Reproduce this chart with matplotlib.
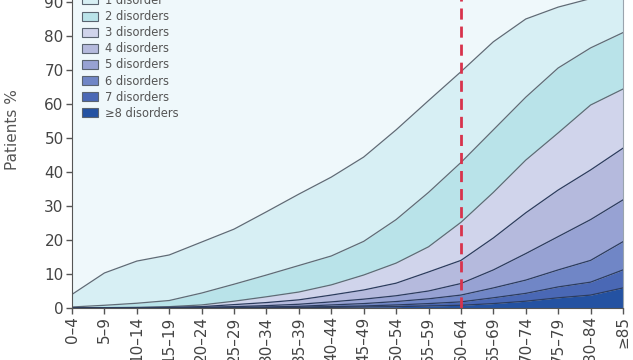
import matplotlib.pyplot as plt
import numpy as np

plt.rcParams['font.family'] = ['DejaVu Sans']

age_groups = ['0–4', '5–9', '10–14', '15–19', '20–24', '25–29', '30–34',
              '35–39', '40–44', '45–49', '50–54', '55–59', '60–64', '65–69',
              '70–74', '75–79', '80–84', '≥85']

# share of patients with at least k disorders (%)
at_least_1 = [4.0, 10.3, 13.8, 15.6, 19.4, 23.2, 28.3, 33.5, 38.5, 44.4,
              52.4, 61.0, 69.5, 78.3, 85.0, 88.5, 91.0, 93.5]
at_least_2 = [0.3, 0.8, 1.4, 2.2, 4.4, 7.0, 9.7, 12.5, 15.3, 19.6,
              26.0, 34.0, 42.8, 52.4, 62.0, 70.6, 76.5, 81.0]
at_least_3 = [0.05, 0.1, 0.2, 0.4, 0.9, 2.0, 3.3, 4.7, 6.8, 9.7,
              13.2, 18.0, 25.2, 34.0, 43.5, 51.5, 59.7, 64.4]
at_least_4 = [0.0, 0.05, 0.1, 0.2, 0.4, 1.0, 1.6, 2.4, 3.8, 5.3,
              7.3, 10.6, 14.0, 20.6, 28.0, 34.7, 40.6, 47.0]
at_least_5 = [0.0, 0.0, 0.05, 0.1, 0.2, 0.4, 0.7, 1.1, 1.8, 2.6,
              3.6, 5.0, 7.2, 11.2, 16.0, 21.0, 26.0, 31.8]
at_least_6 = [0.0, 0.0, 0.0, 0.05, 0.1, 0.2, 0.3, 0.5, 0.9, 1.3,
              1.9, 2.7, 3.8, 5.9, 8.2, 11.2, 14.0, 19.5]
at_least_7 = [0.0, 0.0, 0.0, 0.0, 0.05, 0.1, 0.15, 0.25, 0.4, 0.6,
              0.9, 1.3, 1.8, 3.0, 4.3, 6.2, 7.6, 11.2]
at_least_8 = [0.0, 0.0, 0.0, 0.0, 0.0, 0.05, 0.1, 0.1, 0.2, 0.3,
              0.4, 0.6, 0.8, 1.3, 2.0, 3.0, 3.8, 5.9]

labels = ['1 disorder', '2 disorders', '3 disorders', '4 disorders',
          '5 disorders', '6 disorders', '7 disorders', '≥8 disorders']
colors = ['#d7eff4', '#b9e3e9', '#d0d4eb', '#b5badd', '#97a2d3',
          '#7086c6', '#4a68b5', '#2452a2']
cutoff_group = '60–64'

bounds = [at_least_1, at_least_2, at_least_3, at_least_4,
          at_least_5, at_least_6, at_least_7, at_least_8]
x = np.arange(len(age_groups))

fig = plt.figure(figsize=(6.33, 3.6), dpi=100)
ax = fig.add_axes([72 / 633, 52 / 360, 551 / 633, 340 / 360])

# no-disorder area above the top line
ax.fill_between(x, at_least_1, 100, color='#eff8fb', lw=0)
handles = []
for i, (lab, col) in enumerate(zip(labels, colors)):
    upper = np.array(bounds[i])
    lower = np.array(bounds[i + 1]) if i + 1 < len(bounds) else np.zeros(len(x))
    ax.fill_between(x, lower, upper, color=col, lw=0)
    handles.append(plt.Rectangle((0, 0), 1, 1, fc=col, ec='#5a6470', lw=0.8))
for i, b in enumerate(bounds):
    lc = '#5f6b76' if i < 3 else '#2c3c5e'
    ax.plot(x, b, color=lc, lw=0.9)

ax.axvline(age_groups.index(cutoff_group), color='#d8334c', lw=2,
           ls=(0, (4, 2.5)))

ax.set_xlim(0, len(x) - 1)
ax.set_ylim(0, 100)
ax.set_yticks(np.arange(0, 101, 10))
ax.set_xticks(x)
ax.set_xticklabels(age_groups, rotation=90)
ax.tick_params(axis='both', labelsize=11, colors='#555555', length=4,
               width=1)
ax.tick_params(axis='both', labelcolor='#444444', pad=2)
for side in ['left', 'bottom']:
    ax.spines[side].set_color('#555555')
ax.spines['right'].set_color('#9aa4ad')
ax.spines['right'].set_linewidth(0.8)
ax.spines['top'].set_visible(False)

fig.text(13 / 633, 1 - 130 / 360, 'Patients %', rotation=90, fontsize=11,
         color='#555555', ha='center', va='center')

ax.legend(handles, labels, loc='upper left', frameon=False,
          fontsize=8.3, labelcolor='#555555', handlelength=1.4,
          handleheight=0.8, handletextpad=0.6, labelspacing=0.27,
          borderpad=0, borderaxespad=0,
          bbox_to_anchor=(10 / 551, 1 - 26 / 340))

fig.savefig('out.png', dpi=100)
